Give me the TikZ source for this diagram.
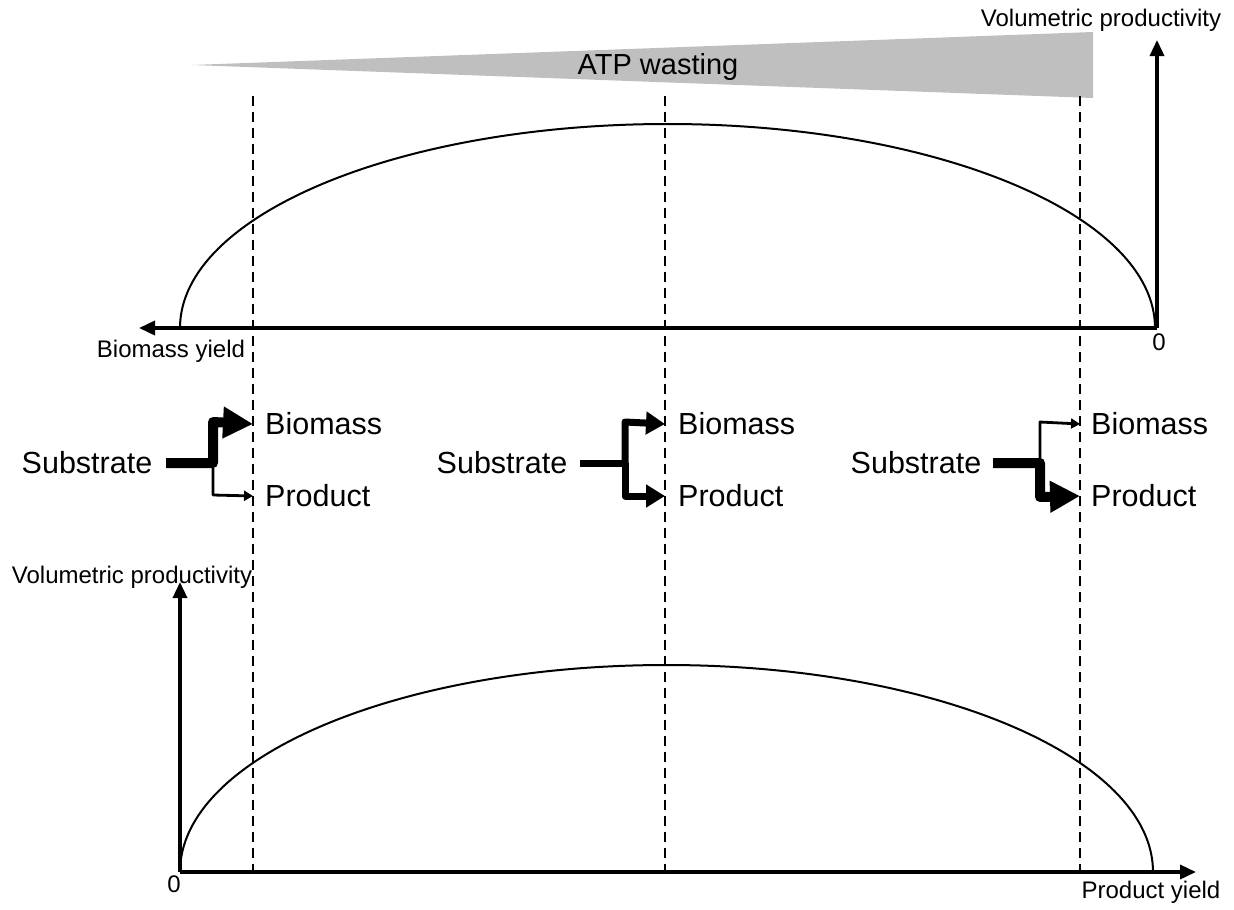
\documentclass[tikz,border=0pt]{standalone}
\usepackage{fontspec}
\setmainfont{Liberation Sans}
\usetikzlibrary{arrows.meta}
\begin{document}
\begin{tikzpicture}[x=1pt,y=-1pt,
  lbl/.style={font=\fontsize{24}{28}\selectfont, inner sep=0pt},
  big/.style={font=\fontsize{30.5}{35}\selectfont, inner sep=0pt},
  axis/.style={line width=3.5pt, -{Triangle[length=16pt,width=14pt]}},
  guide/.style={line width=2.2pt, dash pattern=on 10pt off 6pt},
  curve/.style={line width=2pt},
  heavy/.style={line width=10pt, line join=round, -{Triangle[length=30pt,width=30pt]}},
  medium/.style={line width=7pt, line join=round, -{Triangle[length=19pt,width=22pt]}},
  light/.style={line width=2.8pt, line join=round, -{Triangle[length=9pt,width=10pt]}},
  stem/.style={line width=#1},
]
\useasboundingbox (0,0) rectangle (1234,910);

% ATP wedge
\fill[black!25] (192,65) -- (1093,32) -- (1093,98) -- cycle;
\node[font=\fontsize{29}{33}\selectfont, inner sep=0pt] (atp) at (658,67) {ATP wasting};

% guide lines
\coordinate (d1t) at (253,96);  \coordinate (d1b) at (253,878);
\coordinate (d2t) at (665,96);  \coordinate (d2b) at (665,878);
\coordinate (d3t) at (1080,96); \coordinate (d3b) at (1080,878);
\draw[guide] (d1t) -- (d1b);
\draw[guide] (d2t) -- (d2b);
\draw[guide] (d3t) -- (d3b);

% curves
\coordinate (c1s) at (180,328);
\coordinate (c2s) at (180,872);
\draw[curve] (c1s) arc[start angle=180,end angle=0,x radius=487.5pt,y radius=204pt];
\draw[curve] (c2s) arc[start angle=180,end angle=0,x radius=486.5pt,y radius=207pt];

% axes
\coordinate (o1) at (1157,328); \coordinate (xe1) at (139,328); \coordinate (ye1) at (1157,40);
\coordinate (o2) at (180,872);  \coordinate (xe2) at (1196,872); \coordinate (ye2) at (180,582);
\draw[axis] (o1) -- (xe1);
\draw[axis] (o1) -- (ye1);
\draw[axis] (o2) -- (xe2);
\draw[axis] (o2) -- (ye2);

% axis labels
\node[lbl] (vp1) at (1101,20) {Volumetric productivity};
\node[lbl] (by) at (171,351) {Biomass yield};
\node[lbl] (z1) at (1159,342) {0};
\node[lbl] (vp2) at (132,577) {Volumetric productivity};
\node[lbl] (z2) at (174,884) {0};
\node[lbl] (py) at (1151,892) {Product yield};

% left branch
\node[big] (s1) at (87,463) {Substrate};
\node[big, anchor=west] (b1) at (265,424) {Biomass};
\node[big, anchor=west] (p1) at (265,496) {Product};
\coordinate (s1o) at (166,463);
\coordinate (j1) at (213,463);
\draw[light] (j1) -- (213,495) -- (p1.west -| d1t);
\draw[heavy] (s1o) -- (j1) -- (213,422) -- (b1.west -| d1t);

% middle branch
\node[big] (s2) at (502,463) {Substrate};
\node[big, anchor=west] (b2) at (678,424) {Biomass};
\node[big, anchor=west] (p2) at (678,496) {Product};
\coordinate (s2o) at (580,463);
\coordinate (j2) at (625,463);
\draw[stem=7pt] (s2o) -- (j2);
\draw[medium] (j2) -- (625,422) -- (b2.west -| d2t);
\draw[medium] (j2) -- (625,496) -- (p2.west -| d2t);

% right branch
\node[big] (s3) at (916,463) {Substrate};
\node[big, anchor=west] (b3) at (1091,424) {Biomass};
\node[big, anchor=west] (p3) at (1091,496) {Product};
\coordinate (s3o) at (993,463);
\coordinate (j3) at (1040,463);
\draw[light] (j3) -- (1040,422) -- (b3.west -| d3t);
\draw[heavy] (s3o) -- (j3) -- (1040,497) -- (p3.west -| d3t);
\end{tikzpicture}
\end{document}
